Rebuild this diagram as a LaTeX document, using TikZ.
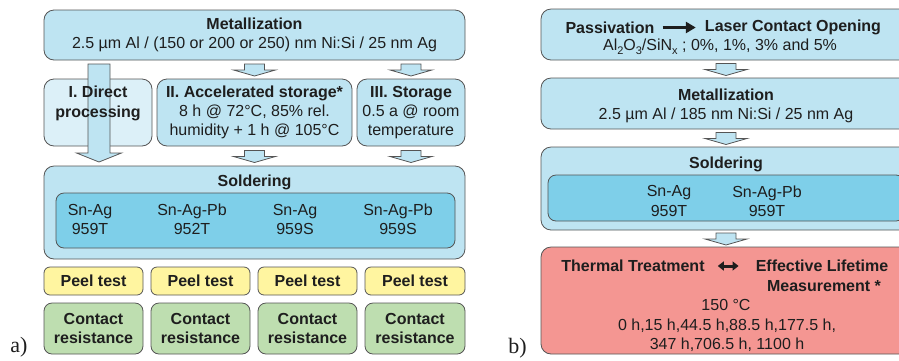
\documentclass[tikz,border=0pt]{standalone}
\usepackage{fontspec}
\setmainfont{Liberation Sans}
\newfontfamily\labelserif{Liberation Serif}
\usetikzlibrary{calc,arrows.meta}
\definecolor{boxblue}{RGB}{190,228,242}
\definecolor{innerblue}{RGB}{126,207,233}
\definecolor{paleblue}{RGB}{220,240,248}
\definecolor{peelyellow}{RGB}{255,245,160}
\definecolor{contactgreen}{RGB}{190,222,176}
\definecolor{thermalred}{RGB}{244,150,146}
\definecolor{edgegrey}{RGB}{85,85,85}
\definecolor{textdark}{RGB}{30,30,30}
\newcommand\lowidx[1]{\raisebox{-0.28em}{\fontsize{11}{11}\selectfont #1}}
\tikzset{
  basebox/.style={draw=edgegrey, line width=0.8pt, inner sep=0pt, outer sep=0pt},
  bbox/.style={basebox, fill=boxblue, rounded corners=10pt},
  palebox/.style={basebox, fill=paleblue, rounded corners=10pt},
  innerbox/.style={basebox, fill=innerblue, rounded corners=8pt},
  peelbox/.style={basebox, fill=peelyellow, rounded corners=6pt, minimum height=28pt, font=\fontsize{16}{19.3}\selectfont\bfseries, text=textdark},
  contactbox/.style={basebox, fill=contactgreen, rounded corners=8pt, minimum height=51pt, align=center, font=\fontsize{16}{19.3}\selectfont\bfseries, text=textdark},
  redbox/.style={basebox, fill=thermalred, rounded corners=10pt},
  txt/.style={inner sep=0pt, align=center, font=\fontsize{16}{19.3}\selectfont, text=textdark},
  btxt/.style={txt, font=\fontsize{16}{19.3}\selectfont\bfseries},
  barrow/.style={draw=edgegrey, line width=0.8pt, fill=boxblue, line join=miter},
  blackarrow/.style={line width=3.6pt, draw=textdark, -{Triangle[length=10pt,width=11pt]}},
  dblarrow/.style={line width=3pt, draw=textdark, {Triangle[length=6pt,width=9pt]}-{Triangle[length=6pt,width=9pt]}},
  panellabel/.style={inner sep=0pt, font=\labelserif\fontsize{22}{22}\selectfont, text=textdark},
}
\newcommand\downblock[3]{%
  \draw[barrow] let \p1=(#1 |- #2.south), \p2=(#1 |- #3.north), \p3=($(\p1)!0.5!(\p2)$) in
    (\x3-10pt,\y3+5.5pt) -- (\x3+10pt,\y3+5.5pt) -- (\x3+10pt,\y3-0.5pt) -- (\x3+21pt,\y3-0.5pt)
    -- (\x3,\y3-6.5pt) -- (\x3-21pt,\y3-0.5pt) -- (\x3-10pt,\y3-0.5pt) -- cycle;}
\begin{document}
\begin{tikzpicture}[x=1pt,y=-1pt]
\useasboundingbox (0,0) rectangle (899,360);
\clip (0,0) rectangle (899,360);

\coordinate (cI) at (99,0);
\coordinate (cII) at (254.5,0);
\coordinate (cIII) at (411,0);
\coordinate (cR) at (726,0);

% ---------------- panel a ----------------
\node[bbox, txt, minimum width=421pt, minimum height=50pt] (metal) at (254.5,35)
  {\textbf{Metallization}\\2.5 µm Al / (150 or 200 or 250) nm Ni:Si / 25 nm Ag};

\node[palebox, minimum width=108pt, minimum height=67pt] (direct) at (98,112.5) {};
\node[bbox, txt, minimum width=195pt, minimum height=67pt] (accel) at (254.5,112.5)
  {\textbf{II. Accelerated storage*}\\8 h @ 72°C, 85\% rel.\\humidity + 1 h @ 105°C};
\node[bbox, txt, minimum width=108pt, minimum height=67pt] (store) at (411,112.5)
  {\textbf{III. Storage}\\0.5 a @ room\\temperature};

\node[bbox, minimum width=421pt, minimum height=93pt] (sold) at (254.5,212.5) {};
\node[btxt] (soldT) at (254.5,182.5) {Soldering};
\node[innerbox, minimum width=399pt, minimum height=55pt] (inner) at (255.5,220.5) {};
\node[txt] (s1) at (90,219.5) {Sn-Ag\\959T};
\node[txt] (s2) at (192,219.5) {Sn-Ag-Pb\\952T};
\node[txt] (s3) at (295,219.5) {Sn-Ag\\959S};
\node[txt] (s4) at (398,219.5) {Sn-Ag-Pb\\959S};

% big arrow for direct processing
\draw[barrow] let \p1=(cI |- metal.south), \p2=(cI |- sold.north) in
  (\x1-11pt,\y1-4pt) -- (\x1+11pt,\y1-4pt) -- (\x1+11pt,\y2+13pt) -- (\x1+22.5pt,\y2+13pt)
  -- (\x1,\y2+4pt) -- (\x1-22.5pt,\y2+13pt) -- (\x1-11pt,\y2+13pt) -- cycle;
\node[btxt] (directT) at (98,103.5) {I. Direct\\processing};

\downblock{cII}{metal}{accel}
\downblock{cIII}{metal}{store}
\downblock{cII}{accel}{sold}
\downblock{cIII}{store}{sold}

\node[peelbox, minimum width=99pt] (p1) at (93.5,281) {Peel test};
\node[peelbox, minimum width=99pt] (p2) at (200.5,281) {Peel test};
\node[peelbox, minimum width=99pt] (p3) at (307.5,281) {Peel test};
\node[peelbox, minimum width=100pt] (p4) at (415,281) {Peel test};

\node[contactbox, minimum width=99pt] (r1) at (93.5,328.5) {Contact\\resistance};
\node[contactbox, minimum width=99pt] (r2) at (200.5,328.5) {Contact\\resistance};
\node[contactbox, minimum width=99pt] (r3) at (307.5,328.5) {Contact\\resistance};
\node[contactbox, minimum width=100pt] (r4) at (415,328.5) {Contact\\resistance};

\node[panellabel] (la) at (19,347) {a)};

% ---------------- panel b ----------------
\node[bbox, minimum width=370pt, minimum height=51pt] (pass) at (726,34.5) {};
\node[btxt] (passT) at (610,27.5) {Passivation};
\node[btxt] (laserT) at (793,27.5) {Laser Contact Opening};
\node[txt] (passT2) at (720,47) {Al\lowidx{2}O\lowidx{3}/SiN\lowidx{x} ; 0\%, 1\%, 3\% and 5\%};
\draw[blackarrow, shorten <=8pt, shorten >=9pt] (passT.east) -- (laserT.west);

\node[bbox, minimum width=370pt, minimum height=51pt] (rmetal) at (726,103.5) {};
\node[txt] (rmetalT) at (726,106) {\textbf{Metallization}\\2.5 µm Al / 185 nm Ni:Si / 25 nm Ag};

\node[bbox, minimum width=370pt, minimum height=83pt] (rsold) at (726,188.5) {};
\node[btxt] (rsoldT) at (726,164.5) {Soldering};
\node[innerbox, minimum width=356pt, minimum height=46pt] (rinner) at (726,198) {};
\node[txt] (t1) at (669,201) {Sn-Ag\\959T};
\node[txt] (t2) at (767,201) {Sn-Ag-Pb\\959T};

\node[redbox, minimum width=370pt, minimum height=107pt] (therm) at (726,300.5) {};
\node[btxt] (thermT) at (633,266) {Thermal Treatment};
\node[btxt] (effT) at (822,266) {Effective Lifetime};
\node[btxt] (measT) at (824,286) {Measurement *};
\draw[dblarrow, shorten <=13pt, shorten >=17pt] (thermT.east) -- (effT.west);
\node[txt] (tempT) at (726,305) {150 °C};
\node[txt] (timesT) at (727,335.5) {0 h,15 h,44.5 h,88.5 h,177.5 h,\\347 h,706.5 h, 1100 h};

\downblock{cR}{pass}{rmetal}
\downblock{cR}{rmetal}{rsold}
\downblock{cR}{rsold}{therm}

\node[panellabel] (lb) at (517.5,348) {b)};
\end{tikzpicture}
\end{document}
